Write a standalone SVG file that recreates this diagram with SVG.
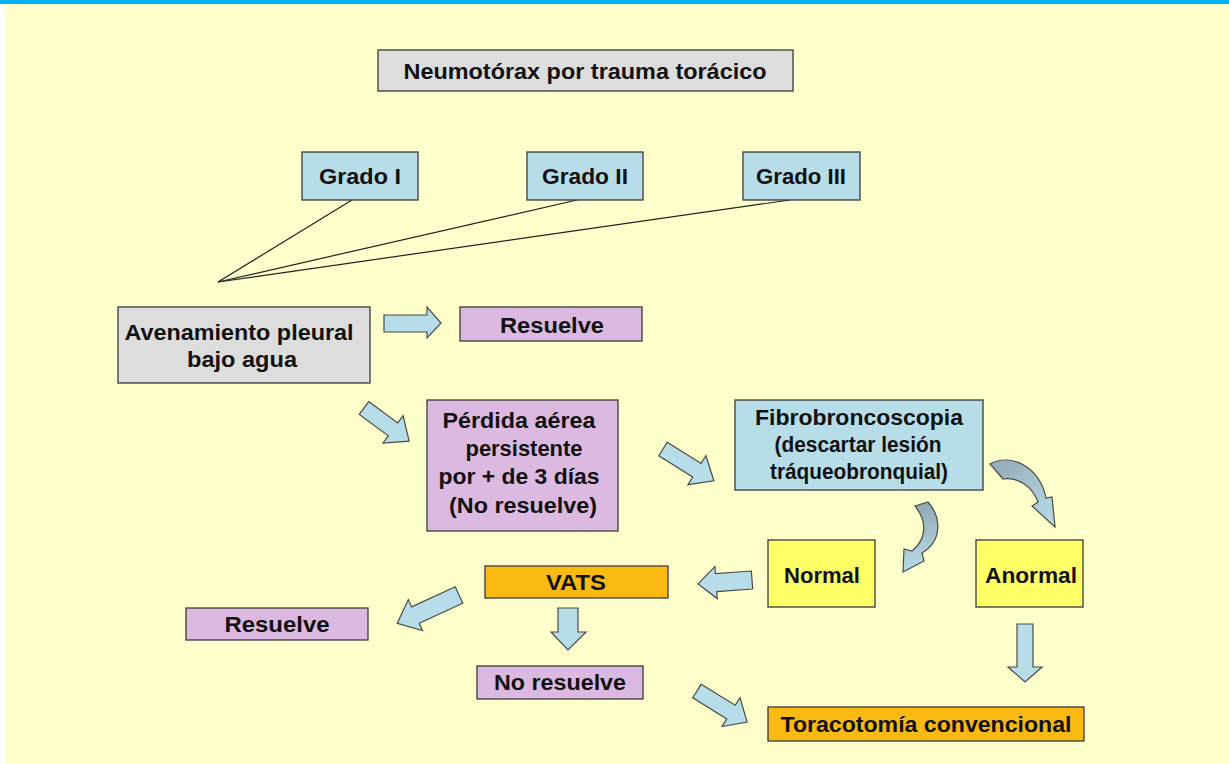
<svg xmlns="http://www.w3.org/2000/svg" width="1229" height="764" viewBox="0 0 1229 764">
<defs>
<style>
.bx{stroke:#3a3a3a;stroke-width:1.3}
.grey{fill:#DDDDDD}
.blue{fill:#B7DDE8}
.lil{fill:#DCB9E0}
.yel{fill:#FFFF66}
.org{fill:#FBBA11}
.t{font-family:"Liberation Sans",Arial,sans-serif;font-weight:bold;font-size:22px;fill:#111;text-anchor:middle}
.ar{fill:#B7DDE8;stroke:#4a4a4a;stroke-width:1.2;stroke-linejoin:miter}
.ln{stroke:#222;stroke-width:1.2;fill:none}
</style>
<linearGradient id="cg1" x1="0" y1="0" x2="1" y2="1">
<stop offset="0" stop-color="#8FAAB6"/><stop offset="0.5" stop-color="#A7C2CC"/><stop offset="1" stop-color="#B7DDE8"/>
</linearGradient>
<linearGradient id="cg2" x1="0" y1="0" x2="0" y2="1">
<stop offset="0" stop-color="#8FAAB6"/><stop offset="0.55" stop-color="#A9C6D0"/><stop offset="1" stop-color="#B7DDE8"/>
</linearGradient>
</defs>
<rect x="0" y="0" width="1229" height="764" fill="#FFFFFF"/>
<rect x="5" y="0" width="1224" height="764" fill="#FFFFCC"/>
<rect x="0" y="0" width="1229" height="4" fill="#00B0F0"/>

<g id="connectors">
<line class="ln" x1="352" y1="200" x2="218" y2="282"/>
<line class="ln" x1="577" y1="200" x2="218" y2="282"/>
<line class="ln" x1="790" y1="200" x2="218" y2="282"/>
<polygon class="ar" points="384,315 427,315 427,307 441,323 427,338 427,332 384,332"/>
<polygon class="ar" transform="translate(364,408) rotate(36.3)" points="0,-8 36,-8 36,-17 56,0 36,17 36,8 0,8"/>
<polygon class="ar" transform="translate(663,449) rotate(32)" points="0,-8 40,-8 40,-17 60,0 40,17 40,8 0,8"/>
<polygon class="ar" transform="translate(752,580) rotate(175.8)" points="0,-9 36,-9 36,-16 54,0 36,16 36,9 0,9"/>
<polygon class="ar" transform="translate(459,595) rotate(155.3)" points="0,-9 48,-9 48,-17 68,0 48,17 48,9 0,9"/>
<polygon class="ar" points="558,608 578,608 578,632 586,632 568,650 551,632 558,632"/>
<polygon class="ar" transform="translate(697,691) rotate(31.8)" points="0,-8 40,-8 40,-17 59,0 40,17 40,8 0,8"/>
<polygon class="ar" points="1017,624 1033,624 1033,667 1042,667 1025,682 1008,667 1017,667"/>
<path class="ar" style="fill:url(#cg1)" d="M990,464 C1012,452 1040,468 1046,498 L1052,497 L1055,527 L1032,506 L1038,502 C1032,486 1018,477 1003,479 Z"/>
<path class="ar" style="fill:url(#cg2)" d="M915,506 L928,502 C942,518 942,541 922,553 L924,561 L903,572 L904,549 L912,551 C926,540 928,522 915,506 Z"/>
</g>

<g id="title">
<rect class="bx grey" x="378" y="50" width="415" height="41"/>
<text class="t" x="585" y="79" textLength="363" lengthAdjust="spacingAndGlyphs">Neumotórax por trauma torácico</text>
</g>
<g id="grado1">
<rect class="bx blue" x="302" y="152" width="116" height="48"/>
<text class="t" x="360" y="184" textLength="82" lengthAdjust="spacingAndGlyphs">Grado I</text>
</g>
<g id="grado2">
<rect class="bx blue" x="527" y="152" width="116" height="48"/>
<text class="t" x="585" y="184" textLength="86" lengthAdjust="spacingAndGlyphs">Grado II</text>
</g>
<g id="grado3">
<rect class="bx blue" x="743" y="152" width="117" height="48"/>
<text class="t" x="801" y="184" textLength="90" lengthAdjust="spacingAndGlyphs">Grado III</text>
</g>
<g id="avenamiento">
<rect class="bx grey" x="118" y="307" width="252" height="76"/>
<text class="t" x="239" y="340" textLength="229" lengthAdjust="spacingAndGlyphs">Avenamiento pleural</text>
<text class="t" x="242" y="367" textLength="110" lengthAdjust="spacingAndGlyphs">bajo agua</text>
</g>
<g id="resuelve1">
<rect class="bx lil" x="460" y="307" width="182" height="34"/>
<text class="t" x="552" y="333" textLength="104" lengthAdjust="spacingAndGlyphs">Resuelve</text>
</g>
<g id="perdida">
<rect class="bx lil" x="427" y="400" width="191" height="131"/>
<text class="t" x="519" y="428" textLength="153" lengthAdjust="spacingAndGlyphs">Pérdida aérea</text>
<text class="t" x="524" y="456" textLength="117" lengthAdjust="spacingAndGlyphs">persistente</text>
<text class="t" x="519" y="484" textLength="161" lengthAdjust="spacingAndGlyphs">por + de 3 días</text>
<text class="t" x="523" y="513" textLength="148" lengthAdjust="spacingAndGlyphs">(No resuelve)</text>
</g>
<g id="fibro">
<rect class="bx blue" x="735" y="400" width="248" height="90"/>
<text class="t" x="859" y="425" textLength="208" lengthAdjust="spacingAndGlyphs">Fibrobroncoscopia</text>
<text class="t" x="858" y="452" textLength="167" lengthAdjust="spacingAndGlyphs">(descartar lesión</text>
<text class="t" x="859" y="479" textLength="178" lengthAdjust="spacingAndGlyphs">tráqueobronquial)</text>
</g>
<g id="normal">
<rect class="bx yel" x="768" y="540" width="107" height="67"/>
<text class="t" x="822" y="583" textLength="76" lengthAdjust="spacingAndGlyphs">Normal</text>
</g>
<g id="anormal">
<rect class="bx yel" x="976" y="540" width="107" height="67"/>
<text class="t" x="1031" y="583" textLength="92" lengthAdjust="spacingAndGlyphs">Anormal</text>
</g>
<g id="vats">
<rect class="bx org" x="485" y="566" width="183" height="32"/>
<text class="t" x="576" y="590" textLength="60" lengthAdjust="spacingAndGlyphs">VATS</text>
</g>
<g id="resuelve2">
<rect class="bx lil" x="186" y="608" width="182" height="32"/>
<text class="t" x="277" y="632" textLength="105" lengthAdjust="spacingAndGlyphs">Resuelve</text>
</g>
<g id="noresuelve">
<rect class="bx lil" x="477" y="666" width="166" height="33"/>
<text class="t" x="560" y="690" textLength="132" lengthAdjust="spacingAndGlyphs">No resuelve</text>
</g>
<g id="toracotomia">
<rect class="bx org" x="768" y="707" width="316" height="34"/>
<text class="t" x="926" y="732" textLength="291" lengthAdjust="spacingAndGlyphs">Toracotomía convencional</text>
</g>
</svg>
